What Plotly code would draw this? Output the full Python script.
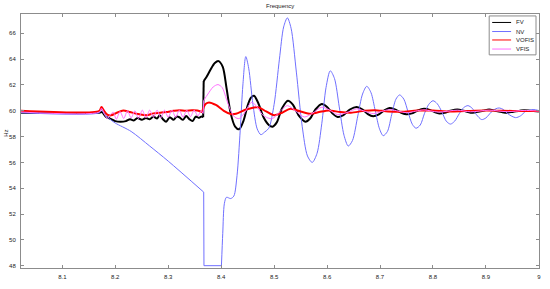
import plotly.graph_objects as go

# ---- data ----
fv_x = [8.022, 8.17, 8.175, 8.182, 8.19, 8.2, 8.21, 8.22, 8.228, 8.235, 8.242, 8.25, 8.258, 8.265,
        8.272, 8.279, 8.284, 8.29, 8.296, 8.303, 8.31, 8.316, 8.321, 8.328, 8.334, 8.34, 8.346,
        8.352, 8.358, 8.363, 8.366, 8.367, 8.372, 8.38, 8.388, 8.395, 8.403, 8.41, 8.418, 8.426,
        8.434, 8.442, 8.45, 8.456, 8.462, 8.47, 8.48, 8.49, 8.497, 8.505, 8.515, 8.526, 8.535,
        8.547, 8.559, 8.568, 8.578, 8.59, 8.6, 8.61, 8.62, 8.63, 8.643, 8.656, 8.667, 8.677,
        8.687, 8.697, 8.707, 8.718, 8.728, 8.74, 8.75, 8.76, 8.77, 8.783, 8.795, 8.803, 8.812,
        8.822, 8.833, 8.846, 8.858, 8.871, 8.882, 8.894, 8.906, 8.918, 8.93, 8.94, 8.952, 8.972,
        8.985, 9.0]
fv_y = [59.85, 59.85, 59.9, 59.55, 59.4, 59.2, 59.15, 59.2, 59.35, 59.25, 59.45, 59.3, 59.45, 59.35,
        59.55, 59.4, 59.65, 59.35, 59.15, 59.5, 59.3, 59.55, 59.5, 59.3, 59.6, 59.35, 59.2,
        59.55, 59.45, 59.55, 59.5, 62.3, 62.6, 63.2, 63.7, 63.85, 63.4, 61.8, 59.8, 58.8,
        58.57, 59.2, 60.4, 61.0, 61.16, 60.6, 59.5, 58.9, 58.77, 59.1, 60.2, 60.78, 60.5,
        59.6, 59.15, 59.4, 60.1, 60.53, 60.3, 59.8, 59.52, 59.65, 60.1, 60.3, 60.1, 59.75,
        59.58, 59.7, 60.0, 60.22, 60.1, 59.85, 59.73, 59.8, 60.0, 60.15, 60.05, 59.9, 59.8,
        59.85, 60.0, 60.1, 60.0, 59.85, 59.9, 60.0, 60.1, 60.0, 59.9, 59.85, 59.93, 60.05,
        60.0, 59.95]
fv_jumps = [(8.366, 8.367)]

nv_x = [8.022, 8.17, 8.174, 8.18, 8.19, 8.2, 8.23, 8.265, 8.3, 8.367, 8.3675, 8.4005, 8.403,
        8.406, 8.41, 8.418, 8.424, 8.43, 8.436, 8.441, 8.4465, 8.452, 8.46, 8.468, 8.475, 8.482,
        8.49, 8.5, 8.51, 8.518, 8.525, 8.532, 8.542, 8.553, 8.563, 8.572, 8.581, 8.59, 8.598,
        8.606, 8.614, 8.623, 8.632, 8.64, 8.648, 8.658, 8.667, 8.675, 8.683, 8.691, 8.699,
        8.706, 8.714, 8.722, 8.73, 8.737, 8.745, 8.753, 8.761, 8.768, 8.776, 8.784, 8.792,
        8.8, 8.808, 8.817, 8.825, 8.833, 8.841, 8.85, 8.858, 8.866, 8.874, 8.882, 8.892, 8.9,
        8.91, 8.918, 8.925, 8.933, 8.942, 8.956, 8.965, 8.975, 8.989, 9.0]
nv_y = [59.85, 59.85, 60.1, 59.7, 59.35, 59.05, 58.4, 57.27, 56.1, 53.7, 48.0, 48.0, 50.5,
        52.8, 53.3, 53.2, 53.4, 55.0, 58.5, 62.0, 64.2, 63.3, 60.5, 58.6, 58.15, 58.35,
        58.65, 60.5, 64.0, 66.5, 67.2, 66.4, 63.0, 58.8, 56.5, 56.0, 56.7, 59.0, 61.8,
        63.1, 62.5, 60.3, 58.1, 57.27, 57.7, 59.6, 61.3, 61.9, 61.4, 60.0, 58.6,
        58.07, 58.4, 59.7, 60.9, 61.23, 60.9, 59.9, 58.95, 58.65, 58.9, 59.8, 60.5,
        60.78, 60.55, 59.9, 59.2, 58.97, 59.2, 59.8, 60.25, 60.4, 60.2, 59.7, 59.32, 59.45,
        59.9, 60.15, 60.22, 60.1, 59.75, 59.47, 59.6, 59.95, 60.1, 60.02]
nv_jumps = [(8.367, 8.4005)]

vofis_x = [8.022, 8.17, 8.174, 8.178, 8.185, 8.192, 8.203, 8.215, 8.228, 8.243, 8.259, 8.272,
           8.285, 8.296, 8.31, 8.321, 8.333, 8.345, 8.355, 8.364, 8.367, 8.371, 8.377, 8.39,
           8.405, 8.418, 8.428, 8.447, 8.469, 8.485, 8.5, 8.515, 8.531, 8.55, 8.569, 8.585,
           8.603, 8.625, 8.645, 8.67, 8.69, 8.715, 8.74, 8.77, 8.8, 8.83, 8.86, 8.9, 8.95, 9.0]
vofis_y = [60.0, 60.0, 60.3, 60.05, 59.7, 59.65, 59.85, 60.03, 59.9, 59.75, 59.65, 59.8,
           59.85, 59.9, 60.0, 60.05, 60.0, 60.05, 60.03, 59.9, 60.3, 60.55, 60.65, 60.45,
           60.0, 59.75, 59.77, 60.1, 60.28, 59.95, 59.65, 59.85, 60.15, 59.95, 59.77, 59.9,
           60.03, 59.9, 59.85, 60.0, 60.05, 59.95, 59.92, 60.02, 60.02, 59.95, 59.98, 60.02,
           59.99, 59.98]
vofis_jumps = [(8.364, 8.367)]

vfis_x = [8.022, 8.17, 8.174, 8.179, 8.185, 8.19, 8.196, 8.202, 8.209, 8.216, 8.223, 8.23, 8.237,
          8.244, 8.251, 8.258, 8.265, 8.272, 8.279, 8.286, 8.293, 8.3, 8.307, 8.314, 8.321,
          8.328, 8.335, 8.342, 8.349, 8.356, 8.362, 8.366, 8.367, 8.375, 8.385, 8.394, 8.402,
          8.41, 8.418, 8.426, 8.434, 8.445, 8.457, 8.466, 8.478, 8.488, 8.497, 8.51, 8.525,
          8.54, 8.557, 8.572, 8.59, 8.605, 8.62, 8.64, 8.656, 8.672, 8.687, 8.703, 8.718,
          8.735, 8.75, 8.767, 8.783, 8.81, 8.846, 8.871, 8.906, 8.94, 8.972, 9.0]
vfis_y = [59.9, 59.9, 60.2, 59.8, 59.4, 59.65, 59.9, 59.35, 59.95, 59.4, 60.0, 59.45, 60.0,
          59.4, 60.05, 59.45, 60.05, 59.5, 60.05, 59.45, 60.05, 59.5, 60.05, 59.5, 60.05,
          59.5, 60.05, 59.55, 60.05, 59.6, 60.0, 59.8, 60.8, 61.3, 61.85, 62.03, 61.8,
          60.9, 60.0, 59.5, 59.4, 59.9, 60.65, 60.4, 59.7, 59.45, 59.4, 59.9, 60.4,
          60.0, 59.52, 59.8, 60.28, 60.05, 59.7, 59.9, 60.15, 59.95, 59.78, 59.95, 60.1,
          59.97, 59.85, 59.97, 60.07, 59.9, 60.05, 59.92, 60.05, 59.93, 60.03, 59.98]
vfis_jumps = [(8.366, 8.367)]

series_names = ["FV", "NV", "VOFIS", "VFIS"]
series_colors = ["#000000", "#7070ff", "#ff0000", "#ff70ff"]
series_widths = [2, 1, 2, 1]

x_ticks = [8.1, 8.2, 8.3, 8.4, 8.5, 8.6, 8.7, 8.8, 8.9, 9.0]
x_tick_labels = ["8.1", "8.2", "8.3", "8.4", "8.5", "8.6", "8.7", "8.8", "8.9", "9"]
y_ticks = [48, 50, 52, 54, 56, 58, 60, 62, 64, 66]

FONT = "Liberation Sans, Arial, sans-serif"
FS = 6
TXT = "#1a1a1a"
AXC = "#8c8c8c"

# plot-area geometry in pixels (for the hand-drawn legend)
W, H = 550, 289
ML, MR, MT, MB = 21, 9, 14, 14
PW, PH = W - ML - MR, H - MT - MB


def px(xp):
    return (xp - ML) / PW


def py(yp):
    return (H - MB - yp) / PH


fig = go.Figure()


def add_series(x, y, jumps, name, color, width):
    # smooth (spline) pieces, with straight pieces over the jumps
    cuts = [(x.index(a), x.index(b)) for a, b in jumps]
    start = 0
    for i0, i1 in cuts:
        fig.add_trace(go.Scatter(x=x[start:i0 + 1], y=y[start:i0 + 1], mode="lines",
                                 name=name, showlegend=False,
                                 line=dict(color=color, width=width, shape="spline",
                                           smoothing=0.8)))
        fig.add_trace(go.Scatter(x=x[i0:i1 + 1], y=y[i0:i1 + 1], mode="lines",
                                 name=name, showlegend=False,
                                 line=dict(color=color, width=width, shape="linear")))
        start = i1
    fig.add_trace(go.Scatter(x=x[start:], y=y[start:], mode="lines", name=name,
                             showlegend=False,
                             line=dict(color=color, width=width, shape="spline",
                                       smoothing=0.8)))


all_x = [fv_x, nv_x, vofis_x, vfis_x]
all_y = [fv_y, nv_y, vofis_y, vfis_y]
all_j = [fv_jumps, nv_jumps, vofis_jumps, vfis_jumps]
for xs, ys, js, n, c, w in zip(all_x, all_y, all_j, series_names, series_colors, series_widths):
    add_series(xs, ys, js, n, c, w)

axis_common = dict(showline=True, linecolor=AXC, linewidth=1, mirror="ticks",
                   ticks="inside", ticklen=3, tickcolor=AXC, showgrid=False,
                   zeroline=False, tickfont=dict(family=FONT, size=FS, color=TXT))

fig.update_xaxes(range=[8.022, 9.0002], tickvals=x_ticks, ticktext=x_tick_labels,
                 ticklabelstandoff=3, **axis_common)
fig.update_yaxes(range=[47.82, 67.5], tickvals=y_ticks, ticklabelstandoff=3, **axis_common)

# hand-drawn MATLAB-style legend
shapes = [dict(type="rect", xref="paper", yref="paper",
               x0=px(491), x1=px(538), y0=py(56), y1=py(16),
               line=dict(color=AXC, width=1), fillcolor="white", layer="above")]
annotations = []
legend_rows = [22.7, 32, 40.7, 50]
for row, n, c in zip(legend_rows, series_names, series_colors):
    shapes.append(dict(type="line", xref="paper", yref="paper",
                       x0=px(494), x1=px(513), y0=py(row), y1=py(row),
                       line=dict(color=c, width=1), layer="above"))
    annotations.append(dict(text=n, x=px(515.5), y=py(row), xref="paper", yref="paper",
                            xanchor="left", yanchor="middle", showarrow=False,
                            font=dict(family=FONT, size=FS, color=TXT)))

annotations += [
    dict(text="Frequency", x=0.5, y=1, xref="paper", yref="paper", xanchor="center",
         yanchor="bottom", yshift=3, showarrow=False,
         font=dict(family=FONT, size=FS, color=TXT)),
    dict(text="Hz", x=px(6), y=py(137), xref="paper", yref="paper", xanchor="center",
         yanchor="middle", textangle=-90, showarrow=False,
         font=dict(family=FONT, size=FS, color=TXT)),
]

fig.update_layout(
    width=W, height=H,
    margin=dict(l=ML, r=MR, t=MT, b=MB),
    paper_bgcolor="white", plot_bgcolor="white",
    font=dict(family=FONT, size=FS, color=TXT),
    showlegend=False,
    hovermode=False,
    shapes=shapes,
    annotations=annotations,
)

fig.write_html("out.html", config={"displayModeBar": False},
               post_script="document.body.style.margin='0';document.body.style.padding='0';")
